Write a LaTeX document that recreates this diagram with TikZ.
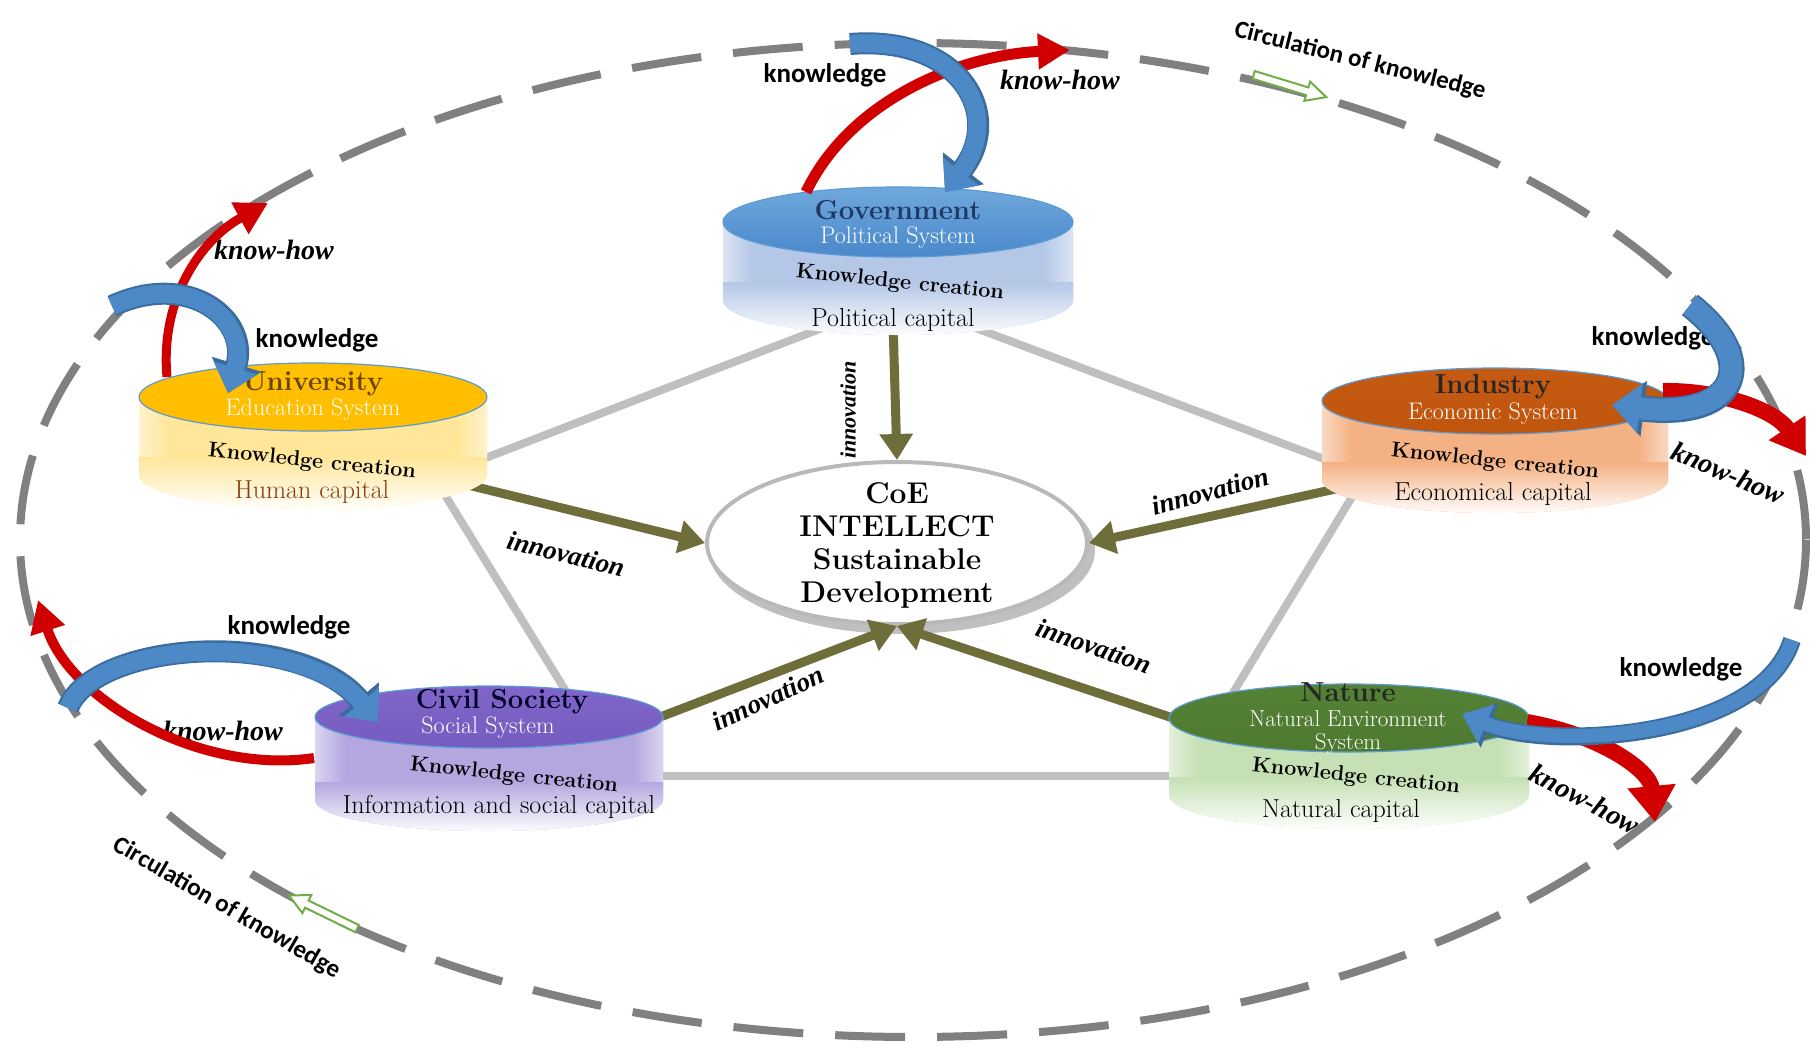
\documentclass[tikz,border=0pt]{standalone}
\usepackage{fontspec}
\newfontfamily\calib{Carlito}
\newfontfamily\tnr{Liberation Serif}
\usetikzlibrary{arrows.meta,shapes.geometric}
\definecolor{dashgray}{HTML}{808080}
\definecolor{pentgray}{HTML}{BFBFBF}
\definecolor{olivec}{HTML}{6E6E3A}
\definecolor{kblue}{HTML}{4D89C6}
\definecolor{kbluedark}{HTML}{3A6D9E}
\definecolor{kred}{HTML}{D00000}
\definecolor{govA}{HTML}{6FA8DC}
\definecolor{govB}{HTML}{4A88CB}
\definecolor{govbody}{HTML}{B4C7E7}
\definecolor{uniA}{HTML}{FFC000}
\definecolor{uniB}{HTML}{FFBE00}
\definecolor{unibody}{HTML}{FFE699}
\definecolor{indA}{HTML}{C55A11}
\definecolor{indB}{HTML}{C0550E}
\definecolor{indbody}{HTML}{F4B183}
\definecolor{civA}{HTML}{8066C8}
\definecolor{civB}{HTML}{765BC0}
\definecolor{civbody}{HTML}{B4A7DF}
\definecolor{natA}{HTML}{548235}
\definecolor{natB}{HTML}{4E7A30}
\definecolor{natbody}{HTML}{C5E0B4}
\definecolor{rimblue}{HTML}{5B9BD5}
\definecolor{navy}{HTML}{1F3864}
\definecolor{unibrown}{HTML}{6B4500}
\definecolor{humbrown}{HTML}{843C0C}
\definecolor{greenar}{HTML}{70AD47}

% cx, top y, bottom y, rx, ry, top colour A, top colour B, body colour
\newcommand\drawcyl[8]{%
  \begin{scope}
    \clip ({#1-#4},#2) -- ({#1-#4},#3)
      .. controls ({#1-#4},{#3+0.5523*#5}) and ({#1-0.5523*#4},{#3+#5}) .. (#1,{#3+#5})
      .. controls ({#1+0.5523*#4},{#3+#5}) and ({#1+#4},{#3+0.5523*#5}) .. ({#1+#4},#3)
      -- ({#1+#4},#2) -- cycle;
    \fill[#8] ({#1-#4-2},{#2-2}) rectangle ({#1+#4+2},{#3+#5+2});
    \shade[left color=white!55!#8, right color=#8] ({#1-#4-2},#2) rectangle ({#1-#4+30},{#3+#5+2});
    \shade[left color=#8, right color=white!55!#8] ({#1+#4-30},#2) rectangle ({#1+#4+2},{#3+#5+2});
    \shade[top color=#8, bottom color=white] ({#1-#4-2},{#3-18}) rectangle ({#1+#4+2},{#3+#5+2});
  \end{scope}
  \shadedraw[top color=#6, bottom color=#7, draw=rimblue, line width=1.2pt]
    (#1,#2) ellipse[x radius=#4, y radius=#5];
}

\newcommand\hollowarrow[3]{%
  \begin{scope}[shift={(#1,#2)}, rotate=#3]
    \draw[greenar, line width=2pt, fill=white, line join=miter]
      (-38,-4) -- (18,-4) -- (18,-10) -- (38,0) -- (18,10) -- (18,4) -- (-38,4) -- cycle;
  \end{scope}
}

\begin{document}
\begin{tikzpicture}[x=1pt,y=-1pt,
  outerdash/.style={draw=dashgray, line width=8pt, dash pattern=on 70pt off 32pt},
  pent/.style={draw=pentgray, line width=8pt},
  innov/.style={draw=olivec, line width=9pt, -{Triangle[width=32pt,length=26pt]}},
  blu/.style={draw=kblue, line width=18pt, -{Triangle[width=44pt,length=26pt]},
    preaction={draw=kbluedark, line width=22pt, -{Triangle[width=50pt,length=30pt]}}},
  bluwide/.style={draw=kblue, line width=22pt, -{Triangle[width=48pt,length=28pt]},
    preaction={draw=kbluedark, line width=26pt, -{Triangle[width=54pt,length=32pt]}}},
  blunarrow/.style={draw=kblue, line width=14pt, -{Triangle[width=40pt,length=26pt]},
    preaction={draw=kbluedark, line width=18pt, -{Triangle[width=46pt,length=30pt]}}},
  redar/.style={draw=kred, line width=11pt, -{Triangle[width=34pt,length=32pt]}},
  title/.style={font=\bfseries\fontsize{27.5}{27.5}\selectfont, inner sep=0pt},
  sub/.style={font=\fontsize{24}{24}\selectfont, text=white, inner sep=0pt},
  kc/.style={font=\bfseries\fontsize{21.5}{21.5}\selectfont, rotate=-6, inner sep=0pt},
  capt/.style={font=\fontsize{26}{26}\selectfont, inner sep=0pt},
  inolab/.style={font=\tnr\bfseries\itshape\fontsize{27}{27}\selectfont, inner sep=0pt},
  howlab/.style={font=\tnr\bfseries\itshape\fontsize{28}{28}\selectfont, inner sep=0pt},
  knowlab/.style={font=\calib\bfseries\fontsize{27}{27}\selectfont, inner sep=0pt},
  circlab/.style={font=\calib\bfseries\fontsize{25}{25}\selectfont, inner sep=0pt}
]
\useasboundingbox (0,0) rectangle (1810,1045);
\fill[white] (0,0) rectangle (1810,1045);

% outer circulation ellipse
\draw[outerdash] (913,540) ellipse[x radius=893, y radius=497];

% pentagon connectors
\coordinate (pGU1) at (830,325); \coordinate (pGU2) at (470,464);
\coordinate (pGI1) at (965,324); \coordinate (pGI2) at (1340,465);
\coordinate (pUC1) at (440,487); \coordinate (pUC2) at (575,706);
\coordinate (pIN1) at (1355,492); \coordinate (pIN2) at (1225,706);
\coordinate (pCN1) at (650,776); \coordinate (pCN2) at (1180,776);
\draw[pent] (pGU1) -- (pGU2);
\draw[pent] (pGI1) -- (pGI2);
\draw[pent] (pUC1) -- (pUC2);
\draw[pent] (pIN1) -- (pIN2);
\draw[pent] (pCN1) -- (pCN2);

% centre
\fill[gray!50] (902,550) ellipse[x radius=193, y radius=84];
\node[draw=gray!55, line width=4pt, fill=white, ellipse, minimum width=380pt,
      minimum height=162pt, inner sep=0pt] (coe) at (897,543) {};
\node[font=\bfseries\fontsize{30}{33}\selectfont, align=center, inner sep=0pt] (coetext) at (897,545)
  {CoE\\INTELLECT\\Sustainable\\Development};

% innovation arrows
\coordinate (iG) at (893,322);
\coordinate (iU) at (468,485);
\coordinate (iI) at (1340,488);
\coordinate (iC) at (655,719);
\coordinate (iN) at (1185,722);
\draw[innov] (iG) -- (coe.north);
\draw[innov] (iU) -- (coe.west);
\draw[innov] (iI) -- (coe.east);
\draw[innov] (iC) -- (coe.south);
\draw[innov] (iN) -- (coe.south);

% cylinders
\drawcyl{898}{222}{300}{175}{35}{govA}{govB}{govbody}
\drawcyl{313}{397}{475}{174}{34}{uniA}{uniB}{unibody}
\drawcyl{1495}{401}{480}{173}{33}{indA}{indB}{indbody}
\drawcyl{489}{717}{800}{174}{31}{civA}{civB}{civbody}
\drawcyl{1349}{718}{795}{180}{34}{natA}{natB}{natbody}

\node[title, text=navy] (govT) at (898,210) {Government};
\node[sub] (govS) at (898,238) {Political System};
\node[kc] (govK) at (900,283) {Knowledge creation};
\node[capt] (govC) at (893,320) {Political capital};

\node[title, text=unibrown] (uniT) at (313,384) {University};
\node[sub] (uniS) at (313,410) {Education System};
\node[kc] (uniK) at (312,462) {Knowledge creation};
\node[capt, text=humbrown] (uniC) at (312,492) {Human capital};

\node[title, text=black!85] (indT) at (1493,387) {Industry};
\node[sub] (indS) at (1493,414) {Economic System};
\node[kc] (indK) at (1495,462) {Knowledge creation};
\node[capt] (indC) at (1493,494) {Economical capital};

\node[title, text=black!85!blue] (civT) at (502,702) {Civil Society};
\node[sub] (civS) at (488,728) {Social System};
\node[kc] (civK) at (514,776) {Knowledge creation};
\node[capt] (civC) at (499,807) {Information and social capital};

\node[title, text=black!85] (natT) at (1348,692) {Nature};
\node[sub, font=\fontsize{23}{23}\selectfont] (natS1) at (1348,719) {Natural Environment};
\node[sub, font=\fontsize{23}{23}\selectfont] (natS2) at (1348,744) {System};
\node[kc] (natK) at (1356,777) {Knowledge creation};
\node[capt] (natC) at (1341,811) {Natural capital};

% innovation labels
\node[inolab, rotate=90, font=\tnr\bfseries\itshape\fontsize{22}{22}\selectfont] (inoG) at (848,410) {innovation};
\node[inolab, rotate=-14] (inoU) at (566,554) {innovation};
\node[inolab, rotate=15] (inoI) at (1210,491) {innovation};
\node[inolab, rotate=25] (inoC) at (768,698) {innovation};
\node[inolab, rotate=-19] (inoN) at (1094,646) {innovation};

% circulation labels and green arrows
\node[circlab, rotate=-14] (circA) at (1360,61) {Circulation of knowledge};
\node[circlab, rotate=-30] (circB) at (227,908) {Circulation of knowledge};
\hollowarrow{1290}{86}{-17}
\hollowarrow{323}{912}{154}

% knowledge / know-how labels
\node[knowlab] (kG) at (825,75) {knowledge};
\node[knowlab] (kU) at (317,340) {knowledge};
\node[knowlab] (kI) at (1653,338) {knowledge};
\node[knowlab] (kC) at (289,627) {knowledge};
\node[knowlab] (kN) at (1681,669) {knowledge};
\node[howlab] (hG) at (1060,80) {know-how};
\node[howlab] (hU) at (274,250) {know-how};
\node[howlab, rotate=-23] (hI) at (1728,473) {know-how};
\node[howlab] (hC) at (223,731) {know-how};
\node[howlab, rotate=-28] (hN) at (1585,799) {know-how};

% know-how (red) arrows
\coordinate (rG0) at (806,192); \coordinate (rG1) at (1070,50);
\coordinate (rU0) at (167,377); \coordinate (rU1) at (268,203);
\coordinate (rI0) at (1663,391); \coordinate (rI1) at (1806,456);
\coordinate (rC0) at (314,758); \coordinate (rC1) at (38,600);
\coordinate (rN0) at (1527,722); \coordinate (rN1) at (1655,822);
\draw[redar] (rG0) .. controls (850,100) and (960,55) .. (rG1);
\draw[redar, line width=9pt] (rU0) .. controls (160,300) and (200,240) .. (rU1);
\draw[redar, line width=16pt, -{Triangle[width=42pt,length=34pt]}] (rI0) .. controls (1720,390) and (1775,410) .. (rI1);
\draw[redar, line width=10pt] (rC0) .. controls (200,775) and (70,700) .. (rC1);
\draw[redar, line width=16pt, -{Triangle[width=46pt,length=36pt]}] (rN0) .. controls (1600,735) and (1650,770) .. (rN1);

% knowledge (blue) arrows
\coordinate (bG0) at (850,44); \coordinate (bG1) at (945,192);
\coordinate (bU0) at (112,306); \coordinate (bU1) at (228,393);
\coordinate (bI0) at (1690,305); \coordinate (bI1) at (1612,405);
\coordinate (bC0) at (68,708); \coordinate (bC1) at (378,722);
\coordinate (bN0) at (1792,640); \coordinate (bN1) at (1462,714);
\draw[blu] (bG0) .. controls (960,35) and (1005,115) .. (bG1);
\draw[blu] (bU0) .. controls (190,270) and (250,320) .. (bU1);
\draw[bluwide] (bI0) .. controls (1760,360) and (1740,420) .. (bI1);
\draw[blu] (bC0) .. controls (95,640) and (300,628) .. (bC1);
\draw[blunarrow] (bN0) .. controls (1760,740) and (1550,750) .. (bN1);
\end{tikzpicture}
\end{document}
